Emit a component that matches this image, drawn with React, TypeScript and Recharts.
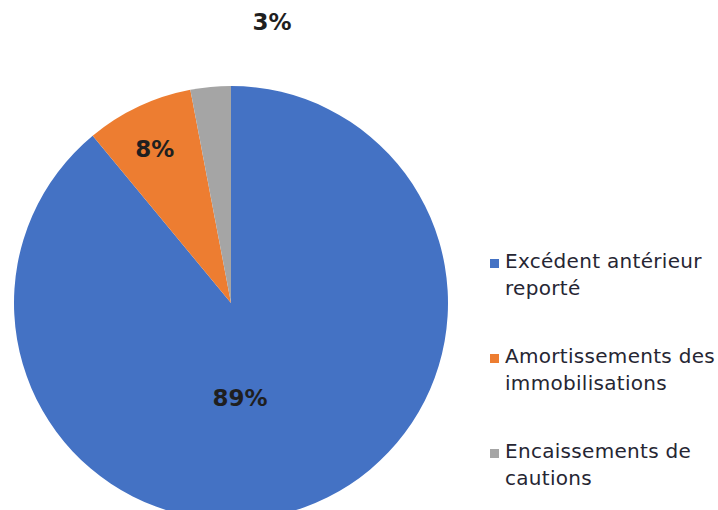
import React from 'react';
import { PieChart, Pie, Cell, Legend } from 'recharts';

const categories = ['Excédent antérieur reporté', 'Amortissements des immobilisations', 'Encaissements de cautions'];
const shares = [89, 8, 3];
const colors = ['#4472C4', '#ED7D31', '#A5A5A5'];

// label placement tweaks (Excel "best fit" look)
const labelRadius = [0.44, 0.79, 1.31];
const labelAngleShift = [-14.4, 1.2, -13.7];

const data = categories.map((name, i) => ({ name, value: shares[i] }));

const RADIAN = Math.PI / 180;
const FONT = "'DejaVu Sans', Verdana, sans-serif";

const renderLabel = (props: any) => {
  const { cx, cy, midAngle, outerRadius, percent, index } = props;
  const a = (midAngle + labelAngleShift[index]) * RADIAN;
  const r = outerRadius * labelRadius[index];
  const x = cx + r * Math.cos(a);
  const y = cy - r * Math.sin(a);
  return (
    <text
      x={x}
      y={y}
      fill="#1f1f1f"
      textAnchor="middle"
      dominantBaseline="central"
      fontFamily={FONT}
      fontWeight="bold"
      fontSize={23}
    >
      {`${Math.round(percent * 100)}%`}
    </text>
  );
};

const renderLegend = () => (
  <div style={{ fontFamily: FONT, fontSize: 20, letterSpacing: 0.3, color: '#262633', lineHeight: '27px' }}>
    {data.map((d, i) => (
      <div key={d.name} style={{ display: 'flex', alignItems: 'flex-start', marginBottom: i < data.length - 1 ? 41 : 0 }}>
        <span
          style={{
            display: 'inline-block',
            width: 9,
            height: 9,
            background: colors[i],
            marginTop: 11,
            marginRight: 6,
            flexShrink: 0,
          }}
        />
        <span style={{ width: 222 }}>{d.name}</span>
      </div>
    ))}
  </div>
);

export default function App() {
  return (
    <div style={{ position: 'absolute', left: 0, top: 0, width: 718, height: 510, overflow: 'hidden', background: '#fff' }}>
      <PieChart width={718} height={510} margin={{ top: 0, right: 0, bottom: 0, left: 0 }}>
        <Pie
          data={data}
          dataKey="value"
          nameKey="name"
          cx={231}
          cy={303}
          outerRadius={217}
          startAngle={90}
          endAngle={-270}
          stroke="none"
          label={renderLabel}
          labelLine={false}
          isAnimationActive={false}
        >
          {data.map((d, i) => (
            <Cell key={d.name} fill={colors[i]} />
          ))}
        </Pie>
        <Legend
          layout="vertical"
          content={renderLegend}
          wrapperStyle={{ left: 490, top: 248, width: 228 }}
        />
      </PieChart>
    </div>
  );
}
